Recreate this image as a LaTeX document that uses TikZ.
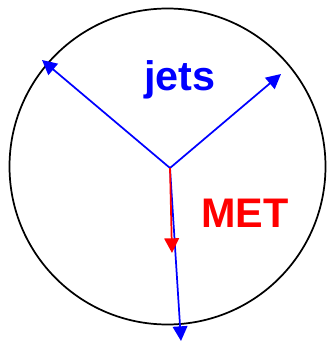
\documentclass[tikz,border=0pt]{standalone}
\usepackage{fontspec}
\setmainfont{Liberation Sans}
\usepackage{xcolor}
\usetikzlibrary{arrows.meta, positioning}

\begin{document}
\begin{tikzpicture}[x=0.75pt, y=-0.75pt, every node/.style={font=\bfseries\fontsize{31}{31}\selectfont}]
    \useasboundingbox (0,0) rectangle (327,342);
    \node (detector) [circle, draw, line width=1.3pt, minimum size=237pt, inner sep=0pt] at (167.5,166.5) {};

    % Event vertex and directions
    \coordinate (vtx) at (170,168);
    \coordinate (jetleft) at (42,60);
    \coordinate (jetright) at (281,74);
    \coordinate (jetdown) at (181,341);
    \coordinate (met) at (172,253);

    % Labels
    \node (jets) [text=blue] at (180,80) {jets};
    \node (metlabel) [text=red] at (245,213) {MET};

    % Connections
    \draw[-{Triangle[length=11pt, width=11pt]}, blue, line width=1.3pt] (vtx) -- (jetleft);
    \draw[-{Triangle[length=11pt, width=11pt]}, blue, line width=1.3pt] (vtx) -- (jetright);
    \draw[-{Triangle[length=11pt, width=11pt]}, blue, line width=1.3pt] (vtx) -- (jetdown);
    \draw[-{Triangle[length=11pt, width=11pt]}, red, line width=1.3pt] (vtx) -- (met);
\end{tikzpicture}
\end{document}
